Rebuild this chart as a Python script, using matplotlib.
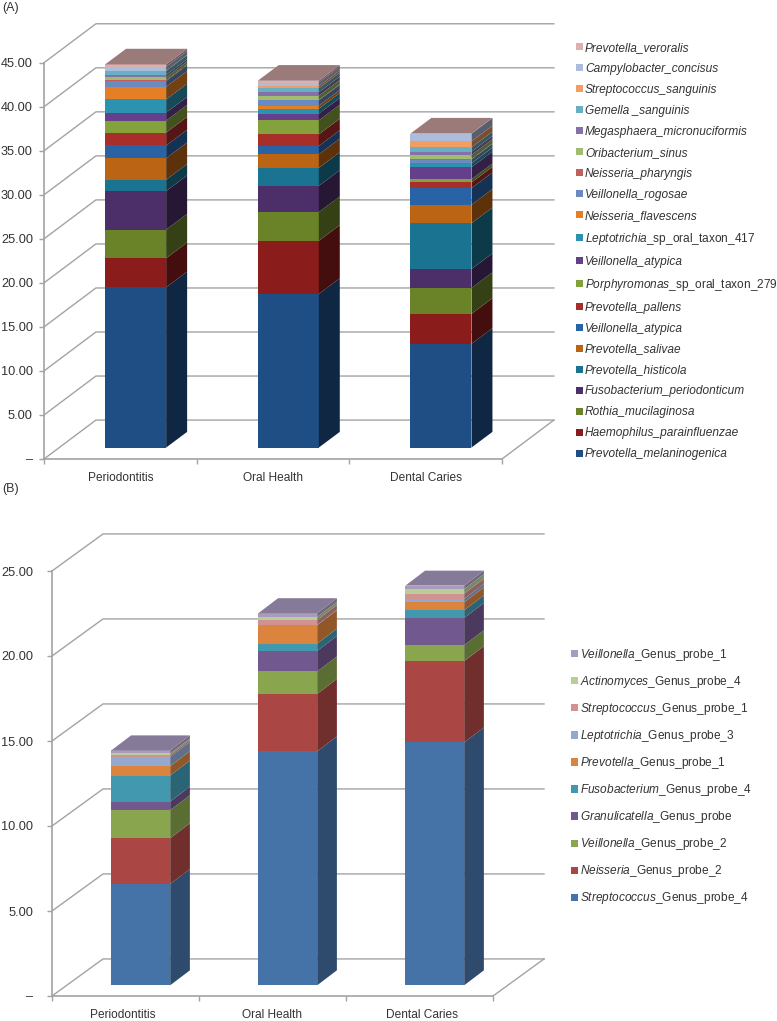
# 3D風の積み上げ棒グラフ (A)(B)
import numpy as np
import matplotlib as mpl
mpl.use('Agg')
import matplotlib.pyplot as plt
from matplotlib.colors import to_rgb
from matplotlib.patches import Patch

plt.rcParams['font.family'] = 'Liberation Sans'
plt.rcParams['mathtext.fontset'] = 'custom'
plt.rcParams['mathtext.it'] = 'Liberation Sans:italic'
plt.rcParams['mathtext.rm'] = 'Liberation Sans'
plt.rcParams['mathtext.default'] = 'regular'

categories = ['Periodontitis', 'Oral Health', 'Dental Caries']

# panel A
names_a = ['Prevotella_melaninogenica', 'Haemophilus_parainfluenzae', 'Rothia_mucilaginosa',
           'Fusobacterium_periodonticum', 'Prevotella_histicola', 'Prevotella_salivae',
           'Veillonella_atypica', 'Prevotella_pallens',
           r'$\mathit{Porphyromonas}$_sp_oral_taxon_279', 'Veillonella_atypica',
           r'$\mathit{Leptotrichia}$_sp_oral_taxon_417', 'Neisseria_flavescens',
           'Veillonella_rogosae', 'Neisseria_pharyngis', 'Oribacterium_sinus',
           'Megasphaera_micronuciformis', 'Gemella _sanguinis', 'Streptococcus_sanguinis',
           'Campylobacter_concisus', 'Prevotella_veroralis']
perio_a = [18.2, 3.3, 3.25, 4.37, 1.29, 2.45, 1.44, 1.47, 1.36, 0.9, 1.5, 1.44, 0.65, 0.1, 0.35, 0.25, 0.45, 0.03, 0.45, 0.25]
oral_a = [17.44, 6.04, 3.25, 2.98, 2.04, 1.55, 0.94, 1.32, 1.59, 0.76, 0.57, 0.34, 0.6, 0.05, 0.49, 0.38, 0.45, 0.26, 0.4, 0.2]
caries_a = [11.78, 3.4, 2.94, 2.15, 5.2, 2.1, 1.88, 0.65, 0.37, 1.36, 0.45, 0.02, 0.4, 0.05, 0.49, 0.35, 0.49, 0.68, 0.87, 0.02]
colors_a = ['#1F4E85', '#8A1C1C', '#6A8228', '#4C2F68', '#1A7391', '#BA6414', '#2A62A6', '#A82E2A',
            '#84A23C', '#653F8B', '#2B93B0', '#E47F26', '#6A8AC0', '#C05F5C', '#A0BC70', '#8670A8',
            '#68AEC5', '#F19E60', '#AEBCDB', '#DDB0B0']

# panel B
names_b = [r'$\mathit{Streptococcus}$_Genus_probe_4', r'$\mathit{Neisseria}$_Genus_probe_2',
           r'$\mathit{Veillonella}$_Genus_probe_2', r'$\mathit{Granulicatella}$_Genus_probe',
           r'$\mathit{Fusobacterium}$_Genus_probe_4', r'$\mathit{Prevotella}$_Genus_probe_1',
           r'$\mathit{Leptotrichia}$_Genus_probe_3', r'$\mathit{Streptococcus}$_Genus_probe_1',
           r'$\mathit{Actinomyces}$_Genus_probe_4', r'$\mathit{Veillonella}$_Genus_probe_1']
perio_b = [5.96, 2.69, 1.65, 0.51, 1.53, 0.55, 0.55, 0.1, 0.1, 0.18]
oral_b = [13.76, 3.38, 1.32, 1.21, 0.43, 1.08, 0.02, 0.29, 0.18, 0.22]
caries_b = [14.29, 4.78, 0.94, 1.6, 0.45, 0.47, 0.2, 0.31, 0.27, 0.2]
colors_b = ['#4572A7', '#AA4643', '#89A54E', '#71588F', '#4198AF', '#DB843D', '#93A9CF', '#D19392',
            '#B9CD96', '#A99BBD']

W, H = 777, 1021
GRID = '#A3A3A3'
TEXT = '#333333'


def darker(c, f):
    return tuple(v * f for v in to_rgb(c))


def draw_panel(box, ymax, ystep, values, colors, side_f, top_color, depth, legend_names, legend_xy, spacing, pad,
               label_x, label_pad):
    # box = left, right, bottom, top [px]
    left, right, bottom, top = box
    ax = fig.add_axes([left / W, 1 - bottom / H, (right - left) / W, (bottom - top) / H])
    ax.set_xlim(0, 3)
    ax.set_ylim(0, ymax)
    ax.patch.set_alpha(0)
    wall_x, wall_y, off_x, off_y, bar_x, bar_y = depth
    width = 0.4

    # 奥の壁と床
    ticks = np.arange(0, ymax + 0.1, ystep)
    for v in ticks:
        ax.plot([0, wall_x, 3 + wall_x], [v, v + wall_y, v + wall_y], color=GRID, lw=1.0, clip_on=False, zorder=1)
    ax.plot([3, 3 + wall_x], [0, wall_y], color=GRID, lw=1.0, clip_on=False, zorder=1)

    for i in range(3):
        x0 = i + 0.5 - width / 2 + off_x
        base = off_y
        for j, vals in enumerate(values):
            v = vals[i]
            ax.bar(x0, v, width, bottom=base, align='edge', color=colors[j], lw=0, clip_on=False, zorder=3)
            xr = x0 + width
            ax.fill([xr, xr + bar_x, xr + bar_x, xr],
                     [base, base + bar_y, base + v + bar_y, base + v],
                     color=darker(colors[j], side_f), lw=0, clip_on=False, zorder=3)
            base += v
        ax.fill([x0, x0 + bar_x, xr + bar_x, xr], [base, base + bar_y, base + bar_y, base],
                 color=top_color, lw=0, clip_on=False, zorder=4)

    for s in ['top', 'right']:
        ax.spines[s].set_visible(False)
    for s in ['left', 'bottom']:
        ax.spines[s].set_color(GRID)
        ax.spines[s].set_linewidth(1.2)
    ax.set_yticks(ticks)
    ax.set_yticklabels(['\u2013'] + ['%.2f' % t for t in ticks[1:]], fontsize=9.2, color=TEXT)
    ax.tick_params(axis='y', length=3.5, width=1, color=GRID, pad=pad)
    ax.set_xticks([0, 1, 2, 3])
    ax.set_xticklabels([])
    ax.set_xticks(label_x, minor=True)
    ax.set_xticklabels(categories, minor=True, fontsize=8.6, color=TEXT)
    ax.tick_params(axis='x', which='major', length=3.5, width=1, color=GRID)
    ax.tick_params(axis='x', which='minor', length=0, pad=label_pad)

    handles = [Patch(facecolor=c, lw=0) for c in colors]
    leg = fig.legend(handles[::-1], legend_names[::-1], loc='upper left',
                     bbox_to_anchor=(legend_xy[0] / W, 1 - legend_xy[1] / H), borderaxespad=0, borderpad=0,
                     frameon=False, fontsize=8.55, handlelength=0.55, handleheight=0.55, handletextpad=0.2,
                     labelspacing=spacing, labelcolor=TEXT)
    for t in leg.get_texts():
        if '$' not in t.get_text():
            t.set_fontstyle('italic')


fig = plt.figure(figsize=(W / 100, H / 100), dpi=100)

draw_panel((44, 502, 459, 62.7), 45, 5, list(zip(perio_a, oral_a, caries_a)), colors_a, 0.5, '#9A7B7A',
           (0.34, 4.42, 0.1, 1.3, 0.1375, 1.78), names_a, (576, 42), 0.755, 4.5, [0.5, 1.5, 2.5], 9)
draw_panel((52, 493, 996, 571), 25, 5, list(zip(perio_b, oral_b, caries_b)), colors_b, 0.66, '#857A98',
           (0.347, 2.18, 0.104, 0.63, 0.134, 0.88), names_b, (571, 647), 0.93, 10, [0.48, 1.5, 2.52], 9.5)

fig.text(2 / W, 1 - 8 / H, '(A)', fontsize=9, color=TEXT, va='center')
fig.text(2 / W, 1 - 489 / H, '(B)', fontsize=9, color=TEXT, va='center')

fig.savefig('out.png', dpi=100)
